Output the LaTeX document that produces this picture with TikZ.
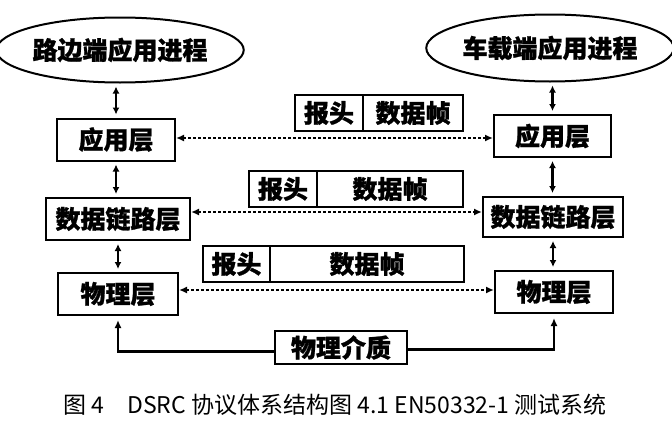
\documentclass[tikz,border=0pt]{standalone}
\usepackage{fontspec}
\newfontfamily\cjk{Noto Sans CJK SC}[BoldFeatures={FakeBold=1}]
\usetikzlibrary{arrows.meta}
\usetikzlibrary{shapes.geometric}

\begin{document}
\begin{tikzpicture}
	[x=1pt,y=-1pt,every node/.style={draw,line width=2pt,inner sep=0pt,font=\cjk\bfseries\fontsize{25}{25}\selectfont},
	layer/.style={minimum height=42pt},
	frame/.style={minimum height=36pt},
	proc/.style={ellipse,minimum height=65pt},
	link/.style={line width=2pt,dash pattern=on 3pt off 2pt,{Latex[length=8pt,width=7pt]}-{Latex[length=8pt,width=7pt]}},
	updown/.style={line width=2.2pt,{Latex[length=7pt,width=7pt]}-{Latex[length=7pt,width=7pt]},shorten <=3pt,shorten >=3pt},
	feed/.style={line width=2.2pt,-{Latex[length=8pt,width=7pt]},shorten >=4pt}]
	\useasboundingbox (0,0) rectangle (672,423);
	% application processes
	\node[proc,minimum width=232pt] (rsu) at (120,50) {路边端应用进程};
	\node[proc,minimum width=228pt,minimum height=67pt] (obu) at (550,48) {车载端应用进程};
	% protocol layers
	\node[layer,minimum width=118pt] (la) at (116,139.5) {应用层};
	\node[layer,minimum width=117pt] (ra) at (552.5,136) {应用层};
	\node[layer,minimum width=144pt] (ld) at (118,219) {数据链路层};
	\node[layer,minimum width=140pt,minimum height=40pt] (rd) at (553,217) {数据链路层};
	\node[layer,minimum width=120pt] (lp) at (118,294) {物理层};
	\node[layer,minimum width=118pt] (rp) at (554,292) {物理层};
	\node[minimum width=132pt,minimum height=33pt] (med) at (341,347.5) {物理介质};
	% frames
	\node[frame,minimum width=68pt] (hdr1) at (329,113) {报头};
	\node[frame,minimum width=100pt] (dat1) at (413,113) {数据帧};
	\node[frame,minimum width=68pt] (hdr2) at (283,189) {报头};
	\node[frame,minimum width=146pt] (dat2) at (390,189) {数据帧};
	\node[frame,minimum width=67pt] (hdr3) at (236.5,264) {报头};
	\node[frame,minimum width=194pt] (dat3) at (367,264) {数据帧};
	% caption
	\node[draw=none,font=\cjk\fontsize{23}{23}\selectfont] (cap) at (335,405) {图 4\hspace{1em}DSRC 协议体系结构图 4.1 EN50332-1 测试系统};

	\draw[updown] (la.north) -- (la.north |- rsu.south);
	\draw[updown] (ra.north) -- (ra.north |- obu.south);
	\draw[updown] (la.south) -- (la.south |- ld.north);
	\draw[updown] (ra.south) -- (ra.south |- rd.north);
	\draw[updown] (ld.south) -- (ld.south |- lp.north);
	\draw[updown] (rd.south) -- (rd.south |- rp.north);

	\draw[link] ([yshift=1.5pt]la.east) -- ([yshift=-2pt]ra.west);
	\draw[link] ([yshift=7pt]ld.east) -- ([yshift=5pt]rd.west);
	\draw[link] ([yshift=4pt]lp.east) -- ([yshift=2pt]rp.west);

	\draw[feed] ([yshift=-4pt]med.west) -| (lp.south);
	\draw[feed] ([yshift=-2pt]med.east) -| (rp.south);
\end{tikzpicture}
\end{document}
